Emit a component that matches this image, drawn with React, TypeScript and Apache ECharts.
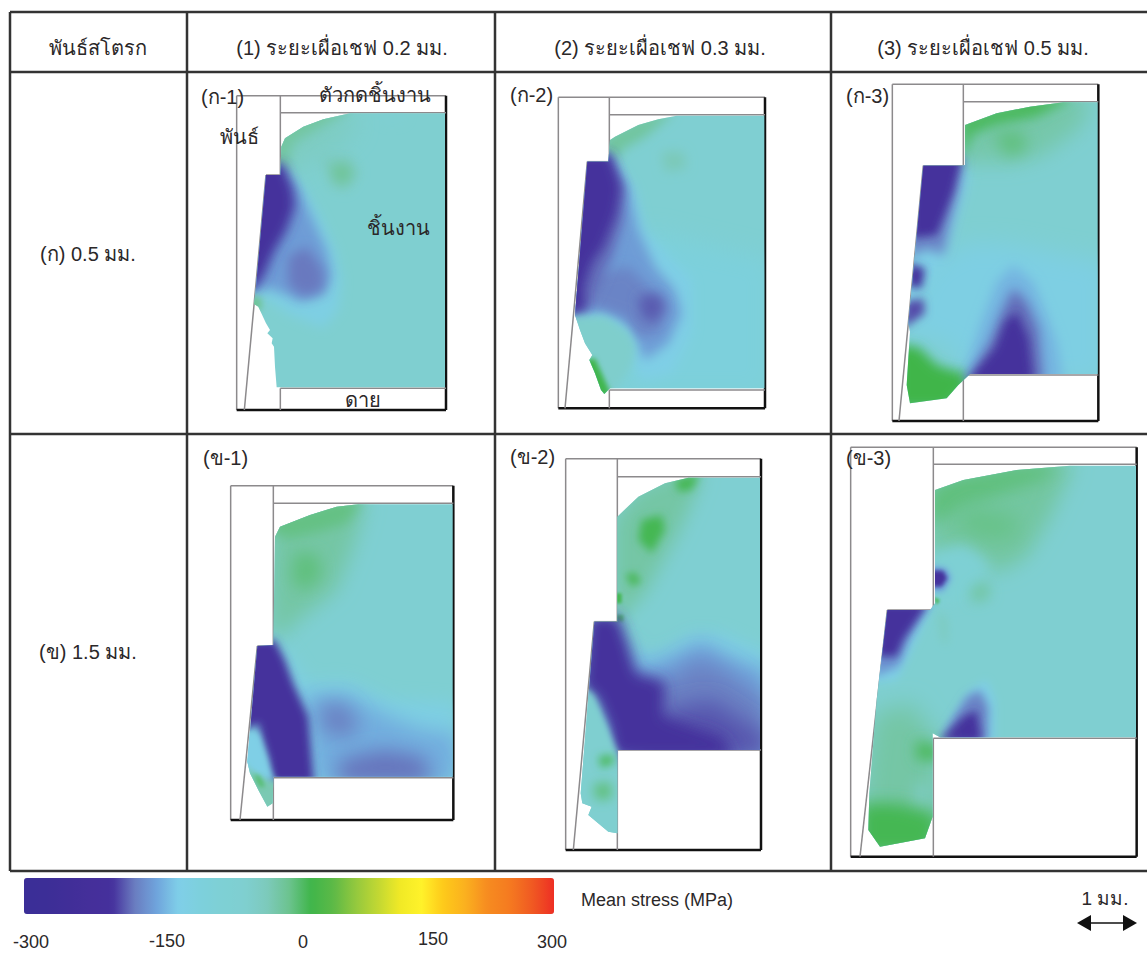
import React, { useEffect, useRef } from "react";
import * as echarts from "echarts";

type Pt = [number, number];
type Band = [number, Pt[], number?];

const FONT = '"Liberation Sans", "Noto Sans", sans-serif';

// colour scale, one colour every 25 MPa from -300 to 300
const scaleColors = [
  "#3b2e97", "#3c2e97", "#402e98", "#452f9a", "#45309c", "#6a7cc0", "#6fa4dc", "#7fcfe8", "#7dd0dc",
  "#7ed0d4", "#7fcfd0", "#7dcabc", "#6cc38f", "#3fb54a", "#5cb947", "#93c83e", "#c0d733", "#f0e926",
  "#fff22a", "#fec91a", "#fbb01f", "#f68b20", "#f57a20", "#f05a22", "#ee2f24",
];
const tickLabels = ["-300", "-150", "0", "150", "300"];
const tickX = [31, 167, 303, 433, 552];
const tickY = [942, 941, 942, 939, 942];

const headers = ["พันธ์สโตรก", "(1) ระยะเผื่อเชฟ 0.2 มม.", "(2) ระยะเผื่อเชฟ 0.3 มม.", "(3) ระยะเผื่อเชฟ 0.5 มม."];
const headerX = [98, 342, 660, 983];
const rowLabels = ["(ก) 0.5 มม.", "(ข) 1.5 มม."];
const rowY = [254, 652];
const panelLabels = ["(ก-1)", "(ก-2)", "(ก-3)", "(ข-1)", "(ข-2)", "(ข-3)"];
const panelLabelX = [201, 510, 846, 203, 510, 846];
const panelLabelY = [97, 95, 96, 458, 457, 458];

// Stress regions, [MPa, contour, blur], in 3x crop coordinates
const A1_OUTLINE: Pt[] = [[480,100],[765,100],[765,922],[260,922],[255,860],[252,800],[245,790],[248,775],[232,760],[240,750],[228,730],[205,680],[192,672],[197,630],[228,285],[271,285],[274,200],[285,175],[340,140],[400,118]];
const A1_BANDS: Band[] = [
  [-62, [[565,90],[650,90],[640,125],[585,130]]],
  [-33, [[260,300],[260,150],[480,80],[500,150],[420,220],[330,260]], 24],
  [-10, [[260,290],[230,170],[340,100],[440,70],[480,90],[380,150],[310,190],[285,280]]],
  [-30, [[390,225],[480,225],[510,280],[470,335],[420,320]]],
  [-6, [[420,255],[470,250],[490,280],[465,315],[435,305]]],
  [-115, [[290,270],[345,330],[390,410],[435,510],[455,600],[445,690],[400,745],[300,705],[220,650],[150,640],[190,250]]],
  [-155, [[280,270],[325,325],[360,400],[410,510],[425,590],[400,645],[330,665],[280,640],[230,625],[150,640],[190,250]]],
  [-176, [[295,530],[350,500],[400,570],[400,630],[340,650],[295,615]]],
  [-200, [[190,250],[280,250],[310,330],[315,380],[290,450],[250,520],[225,580],[197,625],[150,640]]],
  [-5, [[170,645],[215,655],[215,690],[170,690]], 6],
];

const A2_OUTLINE: Pt[] = [[545,107],[808,107],[808,925],[345,925],[328,942],[318,930],[300,880],[283,840],[292,825],[270,790],[255,750],[240,705],[277,245],[340,245],[345,180],[360,170],[430,135],[490,118]];
const A2_BANDS: Band[] = [
  [-8, [[330,260],[330,170],[430,120],[490,100],[540,95],[450,170],[380,210],[360,245]]],
  [-22, [[500,215],[565,215],[575,265],[510,275]]],
  [-100, [[450,450],[830,540],[830,950],[320,950],[400,880],[420,700]], 24],
  [-120, [[350,230],[420,330],[450,450],[530,540],[590,600],[590,760],[530,880],[440,900],[420,860],[400,760],[330,710],[200,720],[240,230]]],
  [-155, [[345,235],[400,320],[430,450],[480,560],[540,630],[560,700],[520,790],[450,840],[430,800],[410,740],[330,690],[200,710],[240,230]]],
  [-170, [[240,600],[400,560],[470,630],[520,680],[490,760],[430,770],[390,710],[300,680],[220,680]]],
  [-186, [[430,650],[490,640],[510,680],[480,730],[440,710]]],
  [-180, [[240,230],[340,230],[385,330],[380,430],[350,530],[310,620],[270,690],[200,710]]],
  [-200, [[240,220],[345,220],[378,320],[365,400],[325,500],[290,550],[268,620],[270,690],[200,705]]],
  [-45, [[200,712],[330,715],[400,760],[420,800],[410,850],[380,900],[345,940],[320,960],[260,860],[220,780]], 8],
  [24, [[270,840],[300,835],[345,935],[325,960],[280,890]], 5],
];

const A3_OUTLINE: Pt[] = [[700,82],[803,82],[803,897],[420,897],[385,930],[350,970],[240,985],[230,930],[240,770],[235,745],[280,272],[395,272],[405,270],[405,150],[500,115],[600,95]];
const A3_BANDS: Band[] = [
  [-115, [[220,760],[280,590],[340,540],[420,500],[560,510],[700,540],[830,560],[830,920],[420,920],[380,900],[380,830],[300,790],[220,810]], 24],
  [-120, [[410,260],[420,300],[385,420],[340,560],[280,640],[220,760],[250,260]]],
  [-15, [[395,280],[395,130],[600,70],[790,70],[750,160],[640,240],[540,265],[430,262]], 20],
  [18, [[395,260],[395,130],[600,70],[735,70],[620,125],[500,150],[430,175]]],
  [6, [[490,170],[580,170],[590,225],[530,245]], 16],
  [25, [[200,810],[265,815],[320,870],[385,890],[430,890],[400,950],[350,1000],[200,1000]]],
  [-170, [[250,250],[400,250],[385,350],[360,450],[340,540],[290,520],[235,550]]],
  [-200, [[250,250],[395,250],[370,350],[340,430],[320,480],[245,490]], 8],
  [-200, [[235,565],[285,580],[275,640],[235,635]], 8],
  [-190, [[225,680],[280,670],[285,715],[220,760]], 8],
  [-140, [[400,910],[450,750],[500,620],[550,570],[610,620],[650,720],[680,800],[700,920]]],
  [-180, [[410,920],[480,800],[520,700],[550,640],[590,680],[625,760],[640,920]]],
  [-205, [[410,920],[495,820],[525,740],[560,710],[595,790],[610,920]], 10],
];

const B1_OUTLINE: Pt[] = [[505,193],[788,193],[788,1010],[250,1010],[248,1090],[232,1100],[205,1050],[180,1000],[172,965],[202,618],[250,615],[255,290],[270,260],[360,225],[440,200]];
const B1_BANDS: Band[] = [
  [-12, [[530,180],[490,320],[440,450],[300,560],[245,625],[235,280],[250,230],[440,180]], 20],
  [4, [[245,280],[250,240],[440,180],[520,180],[470,250],[390,275],[300,295]]],
  [6, [[315,335],[385,345],[395,410],[340,455],[305,420]], 16],
  [-115, [[260,600],[300,650],[350,730],[470,725],[600,780],[800,790],[800,1030],[240,1030],[150,980],[180,600]], 18],
  [-145, [[330,770],[470,760],[600,830],[700,870],[800,880],[800,1030],[370,1030],[360,880]], 20],
  [-172, [[390,790],[460,790],[510,850],[480,890],[400,880]], 20],
  [-178, [[450,960],[580,930],[700,950],[730,1030],[440,1030]], 20],
  [-200, [[180,600],[255,600],[285,660],[310,730],[355,830],[372,1030],[245,1030],[235,960],[210,880],[205,850],[150,880]], 8],
  [-120, [[150,980],[160,880],[205,880],[240,990],[255,1025],[225,1015],[165,980]], 6],
  [-20, [[160,965],[190,1000],[225,1020],[265,1025],[265,1110],[232,1115],[190,1060]], 6],
  [18, [[190,1000],[210,1010],[225,1040],[210,1040]], 5],
];

const B2_OUTLINE: Pt[] = [[580,113],[795,113],[795,930],[367,930],[367,1180],[340,1175],[280,1125],[290,1100],[262,1090],[257,1060],[298,545],[367,545],[367,230],[430,170],[510,130]];
const B2_BANDS: Band[] = [
  [-12, [[355,240],[430,150],[510,110],[580,95],[625,95],[590,190],[550,280],[500,370],[450,460],[355,560]], 18],
  [22, [[440,240],[500,225],[510,270],[470,340],[430,300]], 9],
  [16, [[390,405],[420,395],[440,425],[410,440]], 7],
  [22, [[540,120],[615,100],[590,150],[550,155]], 8],
  [22, [[360,525],[385,525],[385,545],[360,545]], 3],
  [22, [[360,460],[380,460],[380,490],[360,490]], 3],
  [-115, [[355,530],[420,640],[500,640],[590,580],[680,580],[820,640],[820,950],[355,950],[275,740],[280,530]], 16],
  [-150, [[400,600],[430,680],[550,640],[620,600],[700,650],[820,690],[820,950],[355,950]], 20],
  [-172, [[420,720],[510,720],[610,650],[680,680],[820,780],[820,950],[380,950]], 22],
  [-188, [[510,810],[650,780],[820,890],[820,950],[400,950]], 22],
  [-200, [[280,525],[370,525],[400,610],[425,700],[510,725],[505,830],[560,850],[680,890],[720,950],[360,950],[340,860],[300,770],[260,745]], 14],
  [-50, [[262,740],[295,765],[338,865],[368,940],[390,1200],[240,1200]], 6],
  [18, [[310,950],[350,945],[360,965],[320,985]], 8],
  [8, [[295,1035],[345,1025],[350,1075],[305,1080]], 12],
];

const B3_OUTLINE: Pt[] = [[720,77],[918,77],[918,892],[330,892],[308,880],[308,1130],[285,1195],[150,1220],[115,1170],[118,1060],[140,780],[172,510],[300,510],[315,490],[315,150],[400,120],[560,90]];
const B3_BANDS: Band[] = [
  [-10, [[300,160],[400,105],[560,75],[735,65],[660,230],[590,350],[500,400],[410,320],[360,330],[300,380]], 20],
  [6, [[300,260],[300,140],[400,105],[560,75],[700,65],[640,120],[520,160],[400,200]], 16],
  [2, [[420,200],[560,230],[560,290],[470,300],[370,260]], 20],
  [-75, [[300,340],[400,320],[470,370],[440,470],[360,490],[300,480]], 14],
  [-150, [[295,375],[350,385],[365,415],[340,455],[295,455]], 6],
  [-200, [[295,390],[340,392],[352,415],[335,440],[295,440]], 4],
  [20, [[310,470],[330,480],[320,495]], 3],
  [-8, [[420,450],[470,420],[480,470],[430,490]], 14],
  [-25, [[325,510],[350,540],[350,620],[335,600]], 10],
  [-120, [[150,490],[310,490],[240,640],[200,720],[120,730]], 8],
  [-160, [[150,490],[295,490],[240,590],[205,680],[130,710]], 10],
  [-200, [[150,490],[295,490],[220,600],[200,650],[140,650]], 8],
  [-120, [[320,905],[420,750],[470,720],[495,780],[495,905]], 8],
  [-170, [[325,905],[410,770],[450,750],[475,800],[472,905]], 10],
  [-200, [[325,905],[400,830],[440,810],[455,905]], 8],
  [-12, [[100,1050],[130,820],[250,790],[295,870],[325,880],[325,1150],[285,1240],[100,1240]], 24],
  [22, [[90,1090],[200,1090],[280,1110],[330,1130],[300,1240],[90,1240]], 16],
  [20, [[260,900],[325,920],[325,960],[260,960]], 14],
  [-35, [[250,1040],[290,1030],[300,1080],[260,1085]], 14],
];

const outlines = [A1_OUTLINE, A2_OUTLINE, A3_OUTLINE, B1_OUTLINE, B2_OUTLINE, B3_OUTLINE];
const bandSets = [A1_BANDS, A2_BANDS, A3_BANDS, B1_BANDS, B2_BANDS, B3_BANDS];
const baseValues = [-52, -60, -55, -60, -60, -55];
const origins: Pt[] = [[190, 80], [495, 80], [830, 75], [190, 440], [495, 440], [830, 440]];

// Frame of each panel: left, top, right, bottom, tool x, upper tool y, lower tool y, shoulder y, punch top x
const frames = [
  [140, 47, 768, 990, 271, 98, 925, 285, 228, 163],
  [190, 52, 810, 985, 343, 104, 930, 245, 277, 210],
  [187, 28, 805, 1038, 400, 80, 900, 272, 280, 207],
  [122, 137, 790, 1140, 250, 190, 1013, 618, 202, 150],
  [212, 56, 798, 1230, 367, 110, 930, 545, 298, 235],
  [62, 22, 920, 1250, 310, 73, 895, 510, 172, 90],
];

const tableH = [12, 72, 434, 871];
const tableV = [10, 187, 495, 831];

type Seg = [number, number, number, number, number];

function toPage(o: Pt, p: Pt): Pt {
  return [o[0] + p[0] / 3, o[1] + p[1] / 3];
}

function buildSegments(): Seg[] {
  const segs: Seg[] = [];
  frames.forEach((f, i) => {
    const o = origins[i];
    const [l, t, r, b, tx, uy, ly, sy, px, pb] = f;
    const add = (a: number, c: number, d: number, e: number, kind: number) => {
      const p = toPage(o, [a, c]);
      const q = toPage(o, [d, e]);
      segs.push([p[0], p[1], q[0], q[1], kind]);
    };
    add(l, t, r, t, 0);
    add(l, t, l, b, 0);
    add(r, t, r, b, 1);
    add(l, b, r, b, 1);
    add(tx, t, tx, sy, 0);
    add(tx, ly, tx, b, 0);
    add(tx, uy, r, uy, 0);
    add(tx, ly, r, ly, 0);
    add(px, sy, tx, sy, 0);
    add(px, sy, pb, b, 0);
  });
  tableH.forEach((y) => segs.push([10, y, 1147, y, 2]));
  tableV.forEach((x) => segs.push([x, 12, x, 871, 2]));
  return segs;
}

export default function App() {
  const ref = useRef<HTMLDivElement>(null);
  useEffect(() => {
    const chart = echarts.init(ref.current!, null, { renderer: "svg" });

    const panelSeries = outlines.map((outline, pi) => {
      const bands = bandSets[pi];
      const origin = origins[pi];
      const rows = [[baseValues[pi], -1], ...bands.map((b, i) => [b[0], i])];
      // Each region is painted only by its blurred shadow: the sharp source sits outside the clip.
      const shift = origin[0] < 400 ? 500 : -500;
      return {
        type: "custom",
        coordinateSystem: "cartesian2d",
        silent: true,
        z: 2,
        data: rows,
        encode: { x: 1, y: 1 },
        renderItem: (_p: any, api: any) => {
          const idx = api.value(1);
          const color = api.visual("color");
          const clip = outline.map((q) => api.coord(toPage(origin, q)));
          if (idx < 0) {
            return { type: "polygon", shape: { points: clip }, style: { fill: color } };
          }
          const pts = bands[idx][1].map((q: Pt) => api.coord(toPage(origin, q)));
          const xs = pts.map((p: number[]) => p[0]);
          const reach = shift > 0 ? Math.min(...xs) - 40 : Math.max(...xs) + 40;
          const first = [pts[0][0] + shift, pts[0][1]];
          const moved = pts.map((p: number[]) => [p[0] + shift, p[1]]);
          return {
            type: "polygon",
            shape: { points: [...moved, first, [reach, first[1]], first] },
            style: {
              fill: color,
              shadowBlur: bands[idx][2] ?? 12,
              shadowColor: color,
              shadowOffsetX: -shift,
            },
            clipPath: { type: "polygon", shape: { points: clip } },
          };
        },
      };
    });

    const lineColors = ["#8c8a8c", "#111111", "#333333"];
    const lineWidths = [1.5, 2.5, 2.5];
    const lineSeries = {
      type: "custom",
      coordinateSystem: "cartesian2d",
      silent: true,
      z: 1,
      data: buildSegments(),
      encode: { x: 0, y: 1 },
      renderItem: (_p: any, api: any) => {
        const a = api.coord([api.value(0), api.value(1)]);
        const b = api.coord([api.value(2), api.value(3)]);
        const k = api.value(4);
        return {
          type: "line",
          shape: { x1: a[0], y1: a[1], x2: b[0], y2: b[1] },
          style: { stroke: lineColors[k], lineWidth: lineWidths[k] },
        };
      },
    };

    const txt = (text: string, x: number, y: number, align = "center", size = 20) => ({
      type: "text",
      x,
      y,
      z: 10,
      style: { text, fontFamily: FONT, fontSize: size, fill: "#2b2829", textAlign: align, textVerticalAlign: "middle" },
    });

    const texts = [
      ...headers.map((h, i) => txt(h, headerX[i], 48)),
      ...rowLabels.map((h, i) => txt(h, 88, rowY[i])),
      ...panelLabels.map((h, i) => txt(h, panelLabelX[i], panelLabelY[i], "left")),
      txt("ตัวกดชิ้นงาน", 375, 95),
      txt("พันธ์", 239, 137),
      txt("ชิ้นงาน", 398, 228),
      txt("ดาย", 363, 400),
      txt("Mean stress (MPa)", 581, 900, "left", 18),
      txt("1 มม.", 1105, 898, "center", 19),
      ...tickLabels.map((t, i) => txt(t, tickX[i], tickY[i], "center", 18)),
    ];

    chart.setOption({
      animation: false,
      backgroundColor: "#ffffff",
      grid: { left: 0, right: 0, top: 0, bottom: 0 },
      xAxis: { type: "value", min: 0, max: 1147, show: false },
      yAxis: { type: "value", min: 0, max: 953, inverse: true, show: false },
      visualMap: {
        type: "continuous",
        min: -300,
        max: 300,
        dimension: 0,
        seriesIndex: panelSeries.map((_, i) => i),
        orient: "horizontal",
        left: 24,
        top: 878,
        padding: 0,
        itemWidth: 36,
        itemHeight: 530,
        calculable: false,
        realtime: false,
        hoverLink: false,
        text: undefined,
        inRange: { color: scaleColors },
      },
      series: [...panelSeries, lineSeries],
      graphic: {
        elements: [
          ...texts,
          { type: "line", shape: { x1: 1085, y1: 923, x2: 1130, y2: 923 }, style: { stroke: "#111", lineWidth: 1.5 } },
          { type: "polygon", shape: { points: [[1077, 923], [1091, 915], [1091, 931]] }, style: { fill: "#111" } },
          { type: "polygon", shape: { points: [[1137, 923], [1123, 915], [1123, 931]] }, style: { fill: "#111" } },
        ],
      },
    });
    return () => chart.dispose();
  }, []);
  return <div ref={ref} style={{ position: "absolute", left: 0, top: 0, width: 1147, height: 953 }} />;
}
